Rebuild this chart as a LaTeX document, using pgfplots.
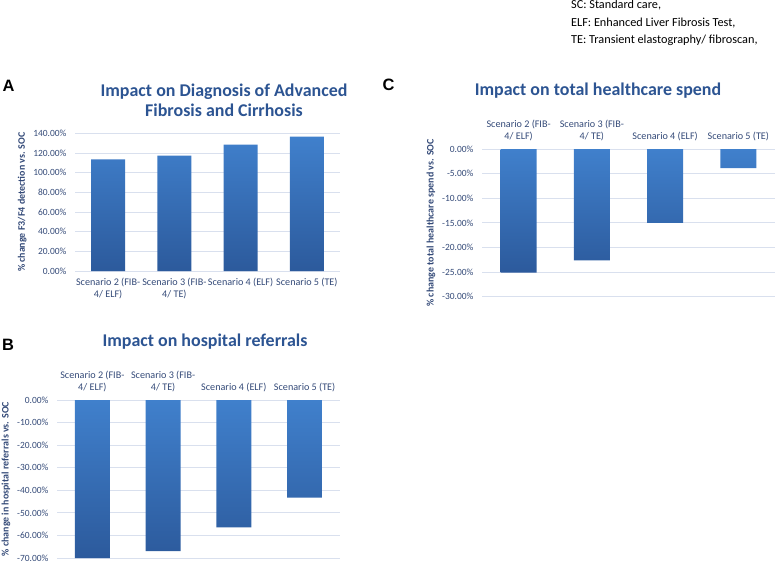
\documentclass[border=0pt]{standalone}
\usepackage{pgfplots}
\pgfplotsset{compat=1.18}
\usepackage{fontspec}
\setmainfont{Carlito}
\newfontfamily\letterfont{Liberation Sans}
\definecolor{titleblue}{RGB}{44,84,146}
\definecolor{tickblue}{RGB}{52,74,120}
\definecolor{gridc}{RGB}{217,224,238}
\definecolor{bartop}{RGB}{64,128,204}
\definecolor{barbot}{RGB}{44,90,156}
\pgfplotsset{
  panel/.style={
    scale only axis,
    ybar,
    xmin=-0.5, xmax=3.5,
    xtick={0,1,2,3},
    axis line style={draw=none},
    major tick length=0pt,
    ymajorgrids, grid style={gridc, line width=0.8pt},
    yticklabel style={font=\fontsize{9.5}{11.5}\selectfont, text=tickblue, xshift=-5bp},
    xticklabel style={font=\fontsize{10.2}{12}\selectfont, text=tickblue, align=center},
    ylabel style={font=\bfseries\fontsize{10}{12}\selectfont, text=tickblue},
    xticklabels={{Scenario 2 (FIB-\\4/ ELF)},{Scenario 3 (FIB-\\4/ TE)},{Scenario 4 (ELF)},{Scenario 5 (TE)}},
  },
  bars/.style={draw=none, top color=bartop, bottom color=barbot},
}
\begin{document}
\begin{tikzpicture}
\useasboundingbox (0,0) rectangle (778bp,-562bp);
% Panel A
\begin{axis}[panel, at={(75bp,-271bp)}, anchor=south west,
  width=265bp, height=137.7bp, ymin=0, ymax=140, bar width=34bp,
  xticklabel style={yshift=-4bp},
  ytick={0,20,40,60,80,100,120,140},
  yticklabels={0.00\%,20.00\%,40.00\%,60.00\%,80.00\%,100.00\%,120.00\%,140.00\%},
  ylabel={\% change F3/F4 detection vs. SOC}]
\addplot[bars] coordinates {(0,113.6) (1,117.3) (2,128.5) (3,136.6)};
\end{axis}
% Panel B
\begin{axis}[panel, at={(57bp,-558bp)}, anchor=south west,
  width=283bp, height=158bp, ymin=-70, ymax=0, bar width=35bp,
  xticklabel pos=upper, xticklabel style={yshift=5bp},
  ytick={-70,-60,-50,-40,-30,-20,-10,0},
  yticklabels={-70.00\%,-60.00\%,-50.00\%,-40.00\%,-30.00\%,-20.00\%,-10.00\%,0.00\%},
  ylabel={\% change in hospital referrals vs. SOC}]
\addplot[bars] coordinates {(0,-70.0) (1,-67.0) (2,-56.4) (3,-43.2)};
\end{axis}
% Panel C
\begin{axis}[panel, at={(482bp,-296.7bp)}, anchor=south west,
  width=293bp, height=147.7bp, ymin=-30, ymax=0, bar width=36bp,
  xticklabel pos=upper, xticklabel style={yshift=5bp},
  ytick={-30,-25,-20,-15,-10,-5,0},
  yticklabels={-30.00\%,-25.00\%,-20.00\%,-15.00\%,-10.00\%,-5.00\%,0.00\%},
  ylabel={\% change total healthcare spend vs. SOC}]
\addplot[bars] coordinates {(0,-25.1) (1,-22.6) (2,-15.0) (3,-3.9)};
\end{axis}
% Titles
\node[font=\bfseries\fontsize{18}{20}\selectfont, text=titleblue, align=center] at (224bp,-100bp) {Impact on Diagnosis of Advanced\\Fibrosis and Cirrhosis};
\node[font=\bfseries\fontsize{18}{20}\selectfont, text=titleblue] at (205bp,-342bp) {Impact on hospital referrals};
\node[font=\bfseries\fontsize{18}{20}\selectfont, text=titleblue] at (598bp,-91bp) {Impact on total healthcare spend};
% Panel letters
\node[font=\letterfont\bfseries\fontsize{16.5}{18}\selectfont] at (8.5bp,-86bp) {A};
\node[font=\letterfont\bfseries\fontsize{16.5}{18}\selectfont] at (8bp,-344.5bp) {B};
\node[font=\letterfont\bfseries\fontsize{16.5}{18}\selectfont] at (388.5bp,-85bp) {C};
% Abbreviations
\node[anchor=north west, align=left, inner sep=0pt, font=\fontsize{12.3}{17.5}\selectfont] at (571bp,0bp) {SC: Standard care,\\ELF: Enhanced Liver Fibrosis Test,\\TE: Transient elastography/ fibroscan,};
\end{tikzpicture}
\end{document}
